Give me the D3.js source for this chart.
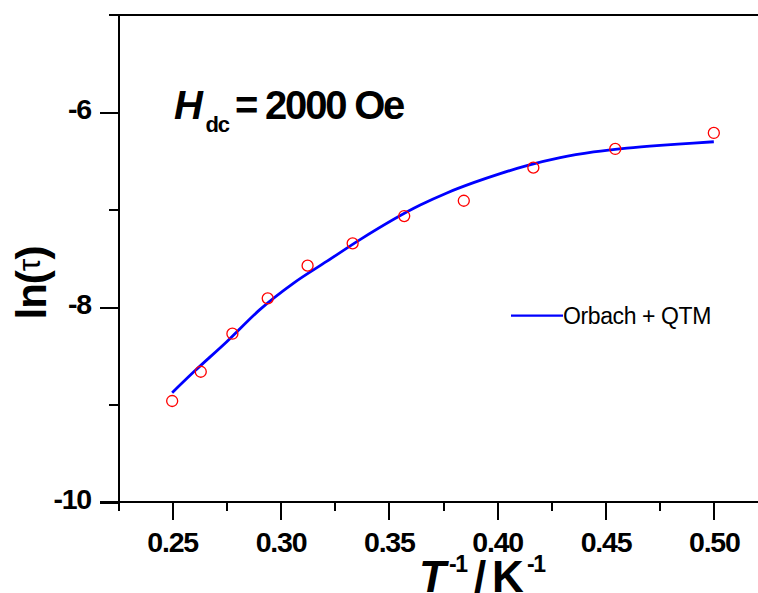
<!DOCTYPE html>
<html>
<head>
<meta charset="utf-8">
<script src="https://cdn.jsdelivr.net/npm/d3@7"></script>
<style>
  html, body { margin: 0; padding: 0; background: #fff; }
  svg { display: block; overflow: hidden; }
  text { font-family: "Liberation Sans", Arial, sans-serif; }
</style>
</head>
<body>
<script>
// Measured relaxation times, ln(tau) against inverse temperature
const invT  = [0.25, 0.2632, 0.2778, 0.2941, 0.3125, 0.3333, 0.3571, 0.3846, 0.4167, 0.4545, 0.5];
const lnTau = [-8.964, -8.664, -8.274, -7.911, -7.576, -7.347, -7.067, -6.910, -6.571, -6.379, -6.215];

// Orbach + QTM fitted curve
const fitX = [0.25, 0.26, 0.2752, 0.2906, 0.3059, 0.3215, 0.3369, 0.3645, 0.3768, 0.3891, 0.4014, 0.4137, 0.4291, 0.4445, 0.4599, 0.4752, 0.4906, 0.5];
const fitY = [-8.879, -8.665, -8.356, -8.024, -7.757, -7.53, -7.306, -6.954, -6.83, -6.725, -6.632, -6.55, -6.468, -6.41, -6.37, -6.342, -6.32, -6.305];

// Axis ticks and labels
const xTicks = [0.225, 0.25, 0.275, 0.30, 0.325, 0.35, 0.375, 0.40, 0.425, 0.45, 0.475, 0.50, 0.525];
const xLabels = ["0.25", "0.30", "0.35", "0.40", "0.45", "0.50"];
const yTicks = [-10, -9, -8, -7, -6, -5];
const yLabels = ["-10", "-8", "-6"];
const legendLabel = "Orbach + QTM";

const W = 758, H = 593;
const svg = d3.select("body").append("svg").attr("width", W).attr("height", H);

const x = d3.scaleLinear().domain([0.225, 0.525]).range([118, 768]);
const y = d3.scaleLinear().domain([-10, -5]).range([502, 14.5]);

const isMajorX = v => xLabels.includes(v.toFixed(2));
const isMajorY = v => yLabels.includes(String(v));

// Bottom axis
const xAxis = d3.axisBottom(x).tickValues(xTicks).tickFormat("").tickSizeOuter(0).tickSizeInner(9);
const gx = svg.append("g").attr("transform", `translate(0,${y(-10)})`).call(xAxis);
gx.selectAll(".tick line").attr("y2", d => isMajorX(d) ? 18 : 9);
gx.select(".domain").attr("d", `M100,0H768`);

// Left axis
const yAxis = d3.axisLeft(y).tickValues(yTicks).tickFormat("").tickSizeOuter(0).tickSizeInner(9);
const gy = svg.append("g").attr("transform", `translate(${x(0.225)},0)`).call(yAxis);
gy.selectAll(".tick line").attr("x2", d => isMajorY(d) ? -18 : -9);

// Top frame line
svg.append("line")
  .attr("x1", x(0.225)).attr("x2", x(0.525))
  .attr("y1", y(-5)).attr("y2", y(-5));

svg.selectAll(".domain, .tick line, line")
  .attr("stroke", "#000").attr("stroke-width", 2).attr("shape-rendering", "crispEdges");

// Tick labels
svg.append("g").selectAll("text").data(xLabels).join("text")
  .attr("x", d => x(+d) + 0.5)
  .attr("y", 551.8)
  .attr("text-anchor", "middle")
  .attr("font-size", 28.5).attr("font-weight", "bold").attr("letter-spacing", -1.2)
  .text(d => d);

svg.append("g").selectAll("text").data(yLabels).join("text")
  .attr("x", 91)
  .attr("y", d => y(+d) + 7)
  .attr("text-anchor", "end")
  .attr("font-size", 28.5).attr("font-weight", "bold").attr("letter-spacing", -1.2)
  .text(d => d);

// Fitted curve
const line = d3.line()
  .x((d, i) => x(fitX[i]))
  .y(d => y(d))
  .curve(d3.curveMonotoneX);
svg.append("path")
  .attr("d", line(fitY))
  .attr("fill", "none").attr("stroke", "#0000ff").attr("stroke-width", 2.8);

// Data points
svg.append("g").selectAll("circle").data(lnTau).join("circle")
  .attr("cx", (d, i) => x(invT[i]))
  .attr("cy", d => y(d))
  .attr("r", 5.5)
  .attr("fill", "none").attr("stroke", "#ff0000").attr("stroke-width", 1.3);

// Legend
const lg = svg.append("g");
lg.append("line").attr("x1", 511).attr("x2", 563).attr("y1", 315.7).attr("y2", 315.7)
  .attr("stroke", "#0000ff").attr("stroke-width", 2.2);
lg.append("text").attr("x", 563).attr("y", 323.5)
  .attr("font-size", 23).attr("letter-spacing", -0.4).text(legendLabel);

// Field annotation
const ann = svg.append("g").attr("font-weight", "bold");
ann.append("text").attr("x", 174).attr("y", 118.5).attr("font-size", 40).attr("font-style", "italic").text("H");
ann.append("text").attr("x", 205.5).attr("y", 132).attr("font-size", 22).attr("letter-spacing", -1.2).text("dc");
ann.append("text").attr("x", 235).attr("y", 118.5).attr("font-size", 40).attr("letter-spacing", -2.2).text("= 2000 Oe");

// Axis titles
const yt = svg.append("text")
  .attr("transform", "translate(46,283) rotate(-90)")
  .attr("text-anchor", "middle")
  .attr("font-size", 42).attr("font-weight", "bold").attr("letter-spacing", -1);
yt.append("tspan").text("ln(");
yt.append("tspan").attr("font-weight", "normal").attr("font-size", 32).attr("dy", -6).text("τ");
yt.append("tspan").attr("dy", 6).text(")");

const xt = svg.append("g").attr("font-weight", "bold");
xt.append("text").attr("x", 419).attr("y", 592).attr("font-size", 44).attr("font-style", "italic").text("T");
xt.append("text").attr("x", 449).attr("y", 572).attr("font-size", 23).attr("letter-spacing", -1.5).text("-1");
xt.append("text").attr("x", 474).attr("y", 592).attr("font-size", 44).text("/");
xt.append("text").attr("x", 492).attr("y", 592).attr("font-size", 44).text("K");
xt.append("text").attr("x", 527).attr("y", 572).attr("font-size", 23).attr("letter-spacing", -1.5).text("-1");
</script>
</body>
</html>
